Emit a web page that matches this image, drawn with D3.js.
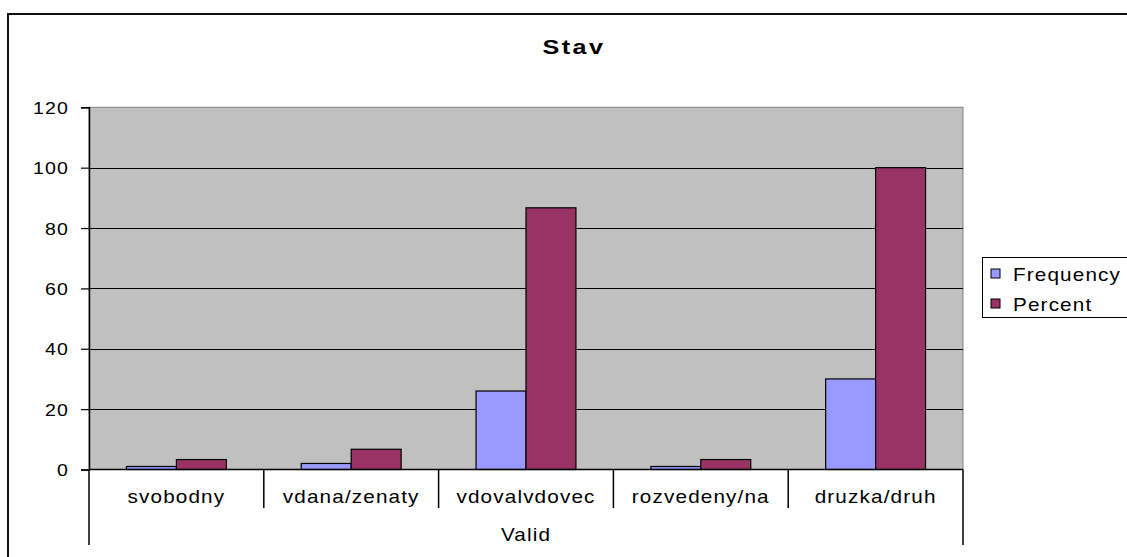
<!DOCTYPE html>
<html>
<head>
<meta charset="utf-8">
<script src="https://cdn.jsdelivr.net/npm/d3@7"></script>
<style>
  html, body { margin: 0; padding: 0; background: #fff; }
  svg { display: block; font-family: "Liberation Sans", Arial, sans-serif; }
</style>
</head>
<body>
<svg id="chart" width="1127" height="557"></svg>
<script>
// Marital status table: counts and percentages per category
const categories = ["svobodny", "vdana/zenaty", "vdovalvdovec", "rozvedeny/na", "druzka/druh"];
const seriesNames = ["Frequency", "Percent"];
const frequency = [1, 2, 26, 1, 30];
const percent = [3.3, 6.7, 86.7, 3.3, 100];
const yTicks = [0, 20, 40, 60, 80, 100, 120];
const groupLabel = "Valid";
const title = "Stav";

const colors = { Frequency: "#9999FF", Percent: "#993366" };
const values = { Frequency: frequency, Percent: percent };

const svg = d3.select("#chart");

const plot = { left: 89, right: 963, top: 107.3, bottom: 469.5 };
const SX = 1.15;        // horizontal stretch applied to all labels

// Places a horizontally stretched label at (x, y)
function label(parent, x, y, str, opts = {}) {
  return parent.append("text")
    .attr("transform", `translate(${x},${y}) scale(${opts.sx || SX},1)`)
    .attr("text-anchor", opts.anchor || "start")
    .attr("font-size", (opts.size || 18) + "px")
    .attr("font-weight", opts.weight || "normal")
    .attr("letter-spacing", (opts.ls ?? 1) + "px")
    .attr("fill", "#000")
    .text(str);
}

// Outer chart frame (continues past the right and bottom edges)
svg.append("rect")
  .attr("x", 8).attr("y", 14)
  .attr("width", 1140).attr("height", 560)
  .attr("fill", "none").attr("stroke", "#111").attr("stroke-width", 2);

// Title
label(svg, 574, 54, title, { anchor: "middle", size: 21, weight: "bold", ls: 2, sx: 1.2 });

const x0 = d3.scaleBand().domain(categories).range([plot.left, plot.right]).padding(0);
const x1 = d3.scaleBand().domain(seriesNames).range([0, x0.bandwidth()])
  .paddingInner(0).paddingOuter(0.75);
const y = d3.scaleLinear().domain([0, 120]).range([plot.bottom, plot.top]);

// Plot background
svg.append("rect")
  .attr("x", plot.left).attr("y", plot.top)
  .attr("width", plot.right - plot.left).attr("height", plot.bottom - plot.top)
  .attr("fill", "#C0C0C0").attr("stroke", "#808080").attr("stroke-width", 1);

// Gridlines
svg.append("g").selectAll("line")
  .data(yTicks.filter(t => t > 0 && t < 120))
  .join("line")
  .attr("x1", plot.left).attr("x2", plot.right)
  .attr("y1", d => Math.round(y(d)) + 0.5).attr("y2", d => Math.round(y(d)) + 0.5)
  .attr("stroke", "#000").attr("stroke-width", 1);

// Bars
const rows = categories.map((c, i) => ({ cat: c, items: seriesNames.map(s => ({ s, v: values[s][i] })) }));
const groups = svg.append("g").selectAll("g")
  .data(rows).join("g")
  .attr("transform", d => `translate(${x0(d.cat)},0)`);
groups.selectAll("rect")
  .data(d => d.items).join("rect")
  .attr("x", d => x1(d.s))
  .attr("y", d => y(d.v))
  .attr("width", x1.bandwidth())
  .attr("height", d => y(0) - y(d.v))
  .attr("fill", d => colors[d.s])
  .attr("stroke", "#000").attr("stroke-width", 1.2);

// Y axis
const yAxis = d3.axisLeft(y).tickValues(yTicks).tickSize(8).tickFormat(d3.format("d"));
const yg = svg.append("g")
  .attr("transform", `translate(${plot.left},0)`)
  .call(yAxis);
yg.select(".domain").attr("stroke", "#000").attr("stroke-width", 1.5);
yg.selectAll(".tick line").attr("stroke", "#000").attr("stroke-width", 1.2);
yg.selectAll(".tick text")
  .attr("x", null).attr("dy", null)
  .attr("transform", `translate(-20,6) scale(${SX},1)`)
  .attr("font-size", "17px").attr("fill", "#000")
  .attr("font-family", "Liberation Sans, Arial, sans-serif")
  .attr("letter-spacing", "1px");

// Category axis baseline
svg.append("line")
  .attr("x1", plot.left).attr("x2", plot.right)
  .attr("y1", plot.bottom).attr("y2", plot.bottom)
  .attr("stroke", "#000").attr("stroke-width", 1.5);

// Category dividers: inner ones short, outer ones span the group row
const bounds = categories.map(c => x0(c)).concat([plot.right]);
svg.append("g").selectAll("line")
  .data(bounds).join("line")
  .attr("x1", d => d).attr("x2", d => d)
  .attr("y1", plot.bottom)
  .attr("y2", (d, i) => (i === 0 || i === bounds.length - 1) ? 545 : 508)
  .attr("stroke", "#000").attr("stroke-width", 1.5);

// Category labels
const catG = svg.append("g");
categories.forEach(c => label(catG, x0(c) + x0.bandwidth() / 2, 503, c, { anchor: "middle" }));

// Group label
label(svg, (plot.left + plot.right) / 2, 541, groupLabel, { anchor: "middle" });

// Legend
const legend = svg.append("g");
legend.append("rect")
  .attr("x", 982.5).attr("y", 257.5)
  .attr("width", 170).attr("height", 60)
  .attr("fill", "#fff").attr("stroke", "#000").attr("stroke-width", 1);
seriesNames.forEach((s, i) => {
  const cy = 274 + i * 30;
  legend.append("rect")
    .attr("x", 991).attr("y", cy - 5)
    .attr("width", 9).attr("height", 9)
    .attr("fill", colors[s]).attr("stroke", "#000").attr("stroke-width", 1);
  label(legend, 1013, cy + 7, s);
});
</script>
</body>
</html>
